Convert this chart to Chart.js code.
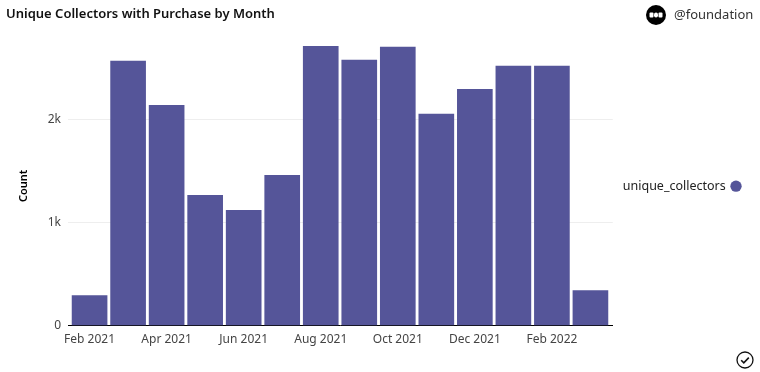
<!DOCTYPE html>
<html>
<head>
<meta charset="utf-8">
<script src="https://cdn.jsdelivr.net/npm/chart.js@4"></script>
<style>
  body { margin: 0; background: #fff; font-family: "Noto Sans", sans-serif; }
  #wrap { position: relative; width: 760px; height: 372px; overflow: hidden; }
  #handle { position: absolute; left: 674px; top: 5px; font-size: 13px; color: #333; line-height: 18px; }
  #logo { position: absolute; left: 646px; top: 5px; }
  #check { position: absolute; left: 735px; top: 350px; }
</style>
</head>
<body>
<div id="wrap">
  <canvas id="chart" width="760" height="372"></canvas>
  <svg id="logo" width="20" height="20" viewBox="0 0 20 20">
    <circle cx="10" cy="10" r="10" fill="#000"/>
    <rect x="3.5" y="7.5" width="4" height="5" rx="1" fill="#fff"/>
    <rect x="8" y="7.5" width="4" height="5" rx="2" fill="#fff"/>
    <rect x="12.5" y="7.5" width="4" height="5" rx="1" fill="#fff"/>
  </svg>
  <div id="handle">@foundation</div>
  <svg id="check" width="20" height="20" viewBox="0 0 20 20" fill="none" stroke="#111">
    <circle cx="10" cy="10" r="8" stroke-width="1.3"/>
    <path d="M6.2 10.2l2.6 2.6 5-5.2" stroke-width="1.6"/>
  </svg>
</div>
<script>
const months = [
  'Feb 2021', 'Mar 2021', 'Apr 2021', 'May 2021', 'Jun 2021', 'Jul 2021', 'Aug 2021',
  'Sep 2021', 'Oct 2021', 'Nov 2021', 'Dec 2021', 'Jan 2022', 'Feb 2022', 'Mar 2022'
];
const uniqueCollectors = [291, 2563, 2136, 1262, 1117, 1456, 2709, 2573, 2699, 2049, 2291, 2515, 2515, 340];
const yTickValues = [0, 1000, 2000];
const yTickLabels = ['0', '1k', '2k'];
const xTickMonths = [0, 2, 4, 6, 8, 10, 12];

const font = 'Noto Sans';
const points = months.map((m, i) => ({ x: i, y: uniqueCollectors[i] }));

new Chart(document.getElementById('chart'), {
  type: 'bar',
  data: {
    datasets: [{
      label: 'unique_collectors',
      data: points,
      backgroundColor: '#555599',
      barThickness: 35
    }]
  },
  options: {
    responsive: false,
    animation: false,
    layout: { padding: { left: 6, right: 8, top: 0, bottom: 18 } },
    scales: {
      x: {
        type: 'linear',
        offset: false,
        min: -0.56,
        max: 13.58,
        grid: { display: false, drawTicks: false },
        border: { color: '#000', width: 1 },
        afterBuildTicks: scale => { scale.ticks = xTickMonths.map(v => ({ value: v })); },
        ticks: {
          autoSkip: false,
          maxRotation: 0,
          padding: 7,
          color: '#444',
          font: { family: font, size: 12 },
          callback: v => months[v]
        }
      },
      y: {
        min: 0,
        max: 2709,
        grid: { color: '#eee', tickLength: 0 },
        border: { display: false },
        afterBuildTicks: scale => { scale.ticks = yTickValues.map(v => ({ value: v })); },
        ticks: {
          autoSkip: false,
          padding: 7,
          color: '#444',
          font: { family: font, size: 12 },
          callback: v => yTickLabels[yTickValues.indexOf(v)]
        },
        title: {
          display: true,
          text: 'Count',
          color: '#000',
          padding: { top: 11, bottom: 8 },
          font: { family: font, size: 11, weight: '600' }
        },
        afterFit: scale => { scale.width = 62; }
      }
    },
    plugins: {
      title: {
        display: true,
        text: 'Unique Collectors with Purchase by Month',
        align: 'start',
        color: '#111',
        padding: { top: 6, bottom: 24.5 },
        font: { family: font, size: 13, weight: '600' }
      },
      legend: {
        position: 'right',
        rtl: true,
        // blank title pushes the single entry down to the middle of the plot
        title: { display: true, text: ' ', padding: 2, font: { family: font, size: 12 } },
        labels: {
          usePointStyle: true,
          pointStyle: 'circle',
          boxWidth: 8,
          boxHeight: 8,
          padding: 12,
          color: '#222',
          font: { family: font, size: 12.5 }
        }
      },
      tooltip: { enabled: false }
    }
  }
});
</script>
</body>
</html>
